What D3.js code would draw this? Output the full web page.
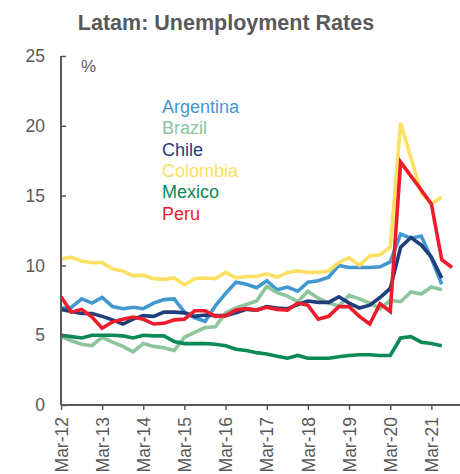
<!DOCTYPE html>
<html>
<head>
<meta charset="utf-8">
<script src="https://cdn.jsdelivr.net/npm/d3@7"></script>
<style>
  html, body { margin: 0; padding: 0; background: #fff; }
  svg { display: block; font-family: "Liberation Sans", Arial, Helvetica, sans-serif; }
</style>
</head>
<body>
<svg id="chart" width="460" height="474"></svg>
<script>
// Quarterly observations, Mar-12 through Jun-21 (Peru has one extra reading)
const quarters = d3.range(38).map(i => new Date(2012, 2 + 3 * i, 1));

const argentina = [6.95, 7.0, 7.6, 7.3, 7.7, 7.05, 6.9, 7.0, 6.9, 7.3, 7.55, 7.6, 6.65, 6.25, 6.0, 7.1, 8.0, 8.8, 8.65, 8.4,
                   8.9, 8.25, 8.45, 8.15, 8.8, 8.9, 9.15, 10.0, 9.85, 9.85, 9.85, 9.9, 10.25, 12.25, 11.95, 12.1, 10.5, 8.65];
const brazil    = [4.9, 4.6, 4.35, 4.25, 4.85, 4.5, 4.2, 3.8, 4.4, 4.2, 4.1, 3.9, 4.85, 5.2, 5.55, 5.6, 6.6, 6.95, 7.2, 7.45,
                   8.5, 8.05, 7.8, 7.4, 8.15, 7.65, 7.3, 7.1, 7.85, 7.6, 7.3, 6.9, 7.5, 7.4, 8.1, 7.95, 8.45, 8.25];
const chile     = [6.85, 6.7, 6.55, 6.55, 6.35, 6.1, 5.8, 6.15, 6.4, 6.35, 6.65, 6.65, 6.6, 6.35, 6.45, 6.4, 6.4, 6.6, 6.85, 6.8,
                   7.05, 6.95, 6.9, 7.2, 7.45, 7.35, 7.35, 7.75, 7.3, 6.95, 7.15, 7.7, 8.35, 11.3, 12.0, 11.45, 10.6, 9.1];
const colombia  = [10.45, 10.6, 10.3, 10.2, 10.2, 9.75, 9.6, 9.25, 9.3, 9.05, 9.0, 9.1, 8.6, 9.05, 9.1, 9.05, 9.5, 9.1, 9.2, 9.2,
                   9.4, 9.15, 9.5, 9.6, 9.5, 9.5, 9.6, 10.2, 10.55, 10.0, 10.7, 10.75, 11.3, 20.2, 17.7, 15.2, 14.4, 14.9];
const mexico    = [5.0, 4.9, 4.8, 5.0, 5.0, 5.0, 4.95, 4.8, 5.0, 4.95, 4.95, 4.55, 4.4, 4.4, 4.4, 4.35, 4.25, 4.0, 3.9, 3.75,
                   3.65, 3.5, 3.35, 3.55, 3.35, 3.35, 3.35, 3.45, 3.55, 3.6, 3.6, 3.55, 3.55, 4.8, 4.9, 4.5, 4.4, 4.25];
const peru      = [7.75, 6.65, 6.85, 6.3, 5.5, 5.95, 6.15, 6.3, 6.15, 5.8, 5.85, 6.1, 6.15, 6.75, 6.75, 6.35, 6.4, 6.8, 6.9, 6.8,
                   7.0, 6.85, 6.8, 7.3, 7.15, 6.15, 6.35, 7.05, 7.05, 6.35, 5.8, 7.25, 6.7, 17.4, 16.4, 15.4, 14.4, 10.4, 9.85];
const peruDates = quarters.concat([new Date(2021, 8, 1)]);

const seriesNames  = ["Argentina", "Brazil", "Chile", "Colombia", "Mexico", "Peru"];
const seriesColors = ["#4198d1", "#8bc49d", "#1f3e7b", "#fde063", "#0b8957", "#ec1c2d"];
const seriesValues = [argentina, brazil, chile, colombia, mexico, peru];

const yTicks = [0, 5, 10, 15, 20, 25];
const xTickDates = d3.range(10).map(i => new Date(2012 + i, 2, 1));
const xTickFormat = d3.timeFormat("%b-%y");

const svg = d3.select("#chart");
const grey = "#595959";

const x = d3.scaleTime()
  .domain([new Date(2012, 2, 1), new Date(2021, 10, 10)])
  .range([61, 460]);
const y = d3.scaleLinear().domain([0, 25]).range([405, 56]);

// Title
svg.append("text")
  .attr("x", 226).attr("y", 30)
  .attr("text-anchor", "middle")
  .attr("font-size", 21.5).attr("font-weight", "bold")
  .attr("fill", grey)
  .text("Latam: Unemployment Rates");

// Unit label
svg.append("text")
  .attr("x", 81).attr("y", 72)
  .attr("font-size", 17).attr("fill", grey)
  .text("%");

// Series lines
const line = d3.line().x(d => x(d[0])).y(d => y(d[1]));
seriesValues.forEach((vals, k) => {
  const dates = k === 5 ? peruDates : quarters;
  svg.append("path")
    .datum(vals.map((v, i) => [dates[i], v]))
    .attr("fill", "none")
    .attr("stroke", seriesColors[k])
    .attr("stroke-width", 3.6)
    .attr("stroke-linejoin", "miter")
    .attr("stroke-miterlimit", 4)
    .attr("d", line);
});

// Y axis
const yAxis = svg.append("g")
  .attr("transform", "translate(61,0)")
  .call(d3.axisRight(y).tickValues(yTicks).tickSize(5).tickFormat(d3.format("d")));
yAxis.select(".domain").attr("d", "M0,56V405").attr("stroke", grey).attr("stroke-width", 2);
yAxis.selectAll(".tick line").attr("stroke", grey).attr("stroke-width", 1.5);
yAxis.selectAll(".tick text")
  .attr("x", -16).attr("text-anchor", "end")
  .attr("font-size", 17.5).attr("fill", grey)
  .attr("font-family", "Liberation Sans, Arial, sans-serif");

// X axis
const xAxis = svg.append("g")
  .attr("transform", "translate(0,405)")
  .call(d3.axisBottom(x).tickValues(xTickDates).tickSize(5).tickFormat(xTickFormat));
xAxis.select(".domain").attr("d", "M61,0H460").attr("stroke", grey).attr("stroke-width", 2);
xAxis.selectAll(".tick line").attr("stroke", grey).attr("stroke-width", 1.5);
xAxis.selectAll(".tick text")
  .attr("transform", "rotate(-90)")
  .attr("x", -12).attr("y", 0).attr("dy", "0.35em")
  .attr("text-anchor", "end")
  .attr("font-size", 17.5).attr("fill", grey)
  .attr("font-family", "Liberation Sans, Arial, sans-serif");

// Legend
const legend = svg.append("g").attr("transform", "translate(162,113)");
seriesNames.forEach((name, k) => {
  legend.append("text")
    .attr("x", 0).attr("y", k * 21.3)
    .attr("font-size", 18)
    .attr("fill", seriesColors[k])
    .text(name);
});
</script>
</body>
</html>
